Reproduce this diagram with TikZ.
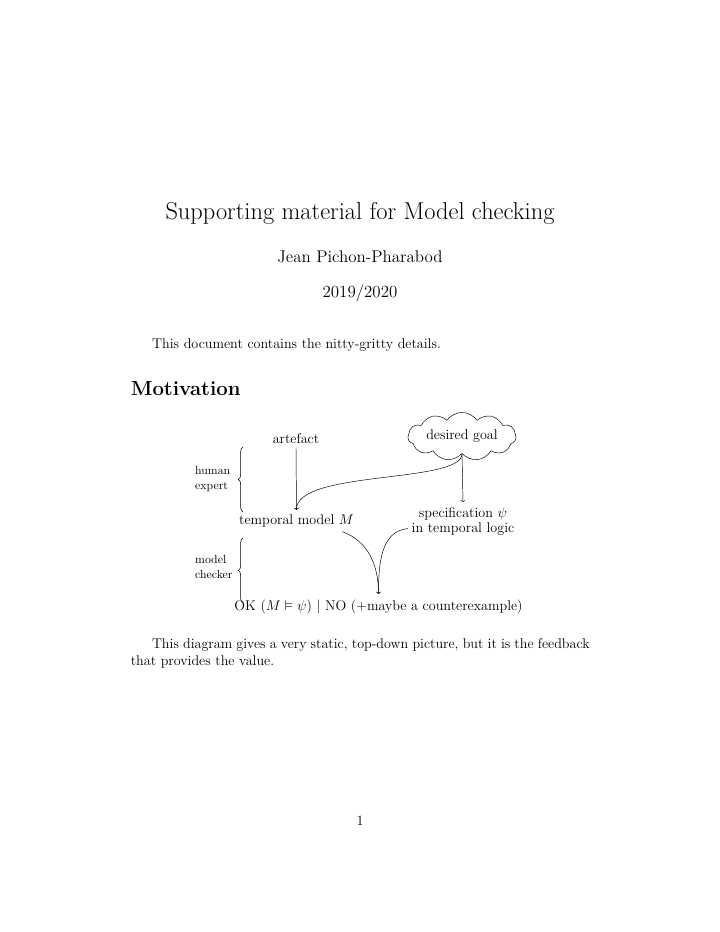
\documentclass[tikz,border=0pt]{standalone}
\usepackage{amssymb}
\usetikzlibrary{shapes.symbols,decorations.pathreplacing}
\begin{document}
\begin{tikzpicture}[x=0.85pt,y=-0.85pt,
  txt/.style={inner sep=0pt, font=\fontsize{12}{14.5}\selectfont},
  small/.style={inner sep=0pt, font=\fontsize{10}{12}\selectfont, anchor=base west},
  arr/.style={->, line width=0.4pt},
  lbrace/.style={decorate, decoration={brace, amplitude=4pt}, line width=0.5pt}]
\useasboundingbox[fill=white] (0,0) rectangle (720,932);

% title block
\node[txt, anchor=base, font=\fontsize{20.74}{25}\selectfont] (title) at (360,219) {Supporting material for Model checking};
\node[txt, anchor=base, font=\fontsize{14.4}{18}\selectfont] (author) at (360,262) {Jean Pichon-Pharabod};
\node[txt, anchor=base, font=\fontsize{14.4}{18}\selectfont] (date) at (360,297) {2019/2020};

\node[txt, anchor=base west] (intro) at (152,348) {This document contains the nitty-gritty details.};
\node[txt, anchor=base west, font=\fontsize{17.28}{22}\selectfont\bfseries] (sec) at (130.6,395) {Motivation};

% diagram
\node[txt, anchor=base] (art) at (296,443) {artefact};
\node[cloud, draw, cloud puffs=11, cloud puff arc=110, cloud ignores aspect, minimum width=92pt, minimum height=41pt, txt] (goal) at (462,436.5) {desired goal};
\node[txt, anchor=base] (model) at (296.5,524) {temporal model $M$};
\node[txt, anchor=base] (spec) at (463,517) {specification $\psi$};
\node[txt, anchor=base] (logic) at (463,532) {in temporal logic};
\node[txt, anchor=base] (ok) at (378.5,610) {OK ($M \vDash \psi$) $|$ NO (+maybe a counterexample)};

\node[small] (human) at (195,474) {human};
\node[small] (expert) at (195,489) {expert};
\node[small] (mdl) at (195,563) {model};
\node[small] (chk) at (195,578) {checker};

\coordinate (b1s) at (243,512);
\coordinate (b1e) at (243,447);
\coordinate (b2s) at (243,603);
\coordinate (b2e) at (243,538);
\draw[lbrace] (b1s) -- (b1e);
\draw[lbrace] (b2s) -- (b2e);

\draw[arr] ([yshift=-4pt]art.south) -- ([yshift=3.5pt]model.north);
\draw[arr] (goal.south) -- ([yshift=4pt]spec.north);
\draw[arr] (goal.south) .. controls +(0,30) and +(0,-40) .. ([yshift=3.5pt]model.north);
\draw[arr] ([xshift=-10pt,yshift=-4pt]model.south east) to[out=-20,in=90] ([yshift=4.5pt]ok.north);
\draw[arr] ([xshift=-3pt]logic.west) to[out=185,in=90] ([yshift=4.5pt]ok.north);

% closing paragraph
\node[txt, anchor=base west] (para) at (130.6,648) {\parbox[t]{390pt}{\hspace*{18pt}This diagram gives a very static, top-down picture, but it is the feedback that provides the value.}};

\node[txt, anchor=base] (page) at (360,825) {1};
\end{tikzpicture}
\end{document}
